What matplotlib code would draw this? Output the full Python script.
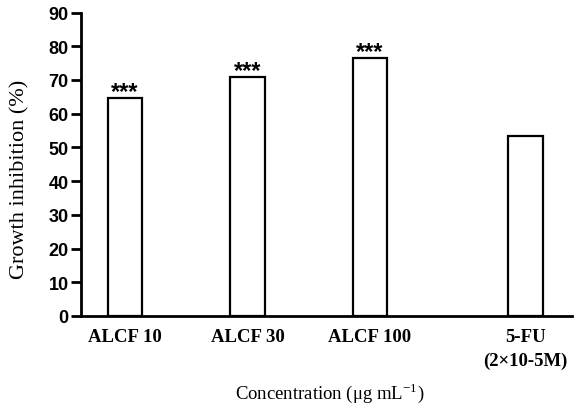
import matplotlib
matplotlib.use('Agg')
import matplotlib.pyplot as plt

# Data
groups = ['ALCF 10', 'ALCF 30', 'ALCF 100', '5-FU\n(2×10-5M)']
inhibition = [64.7, 70.9, 76.5, 53.5]
marks = ['***', '***', '***', '']
yticks = [0, 10, 20, 30, 40, 50, 60, 70, 80, 90]

# 5-FU bar sits a little further out than the others
pos = [0, 1, 2, 3.27]

plt.rcParams['mathtext.fontset'] = 'custom'
plt.rcParams['mathtext.rm'] = 'Liberation Serif'

fig = plt.figure(figsize=(5.74, 4.06), dpi=100)
ax = fig.add_axes([81 / 574, 1 - 317 / 406, (572 - 81) / 574, (317 - 13.5) / 406])

bars = ax.bar(pos, inhibition, width=0.28, color='white', edgecolor='black',
              linewidth=1.6)
for b, m in zip(bars, marks):
    if m:
        ax.text(b.get_x() + b.get_width() / 2, b.get_height() + 1.8, m,
                ha='center', va='center', fontsize=17, fontweight='bold',
                family='Liberation Sans')

ax.set_xlim(-0.36, 3.65)
ax.set_ylim(0, 90)
ax.set_yticks(yticks)
ax.set_xticks(pos)
ax.set_xticklabels(groups, family='Liberation Serif', fontweight='bold',
                   fontsize=13.5, linespacing=1.5)
ax.tick_params(axis='x', length=0, pad=9)
ax.tick_params(axis='y', length=7, width=2, pad=2)
for lab in ax.get_yticklabels():
    lab.set_family('Liberation Sans')
    lab.set_fontweight('bold')
    lab.set_fontsize(13)

for s in ['top', 'right']:
    ax.spines[s].set_visible(False)
for s in ['left', 'bottom']:
    ax.spines[s].set_linewidth(2)

fig.text(20 / 574, 1 - 179 / 406, 'Growth inhibition (%)', rotation=90,
         family='Liberation Serif', fontsize=16, ha='center', va='center')
fig.text(329.5 / 574, 1 - 393.5 / 406, 'Concentration (μg mL$^{-1}$)',
         family='Liberation Serif', fontsize=13.5, ha='center', va='center')

fig.savefig('out.png', dpi=100)
